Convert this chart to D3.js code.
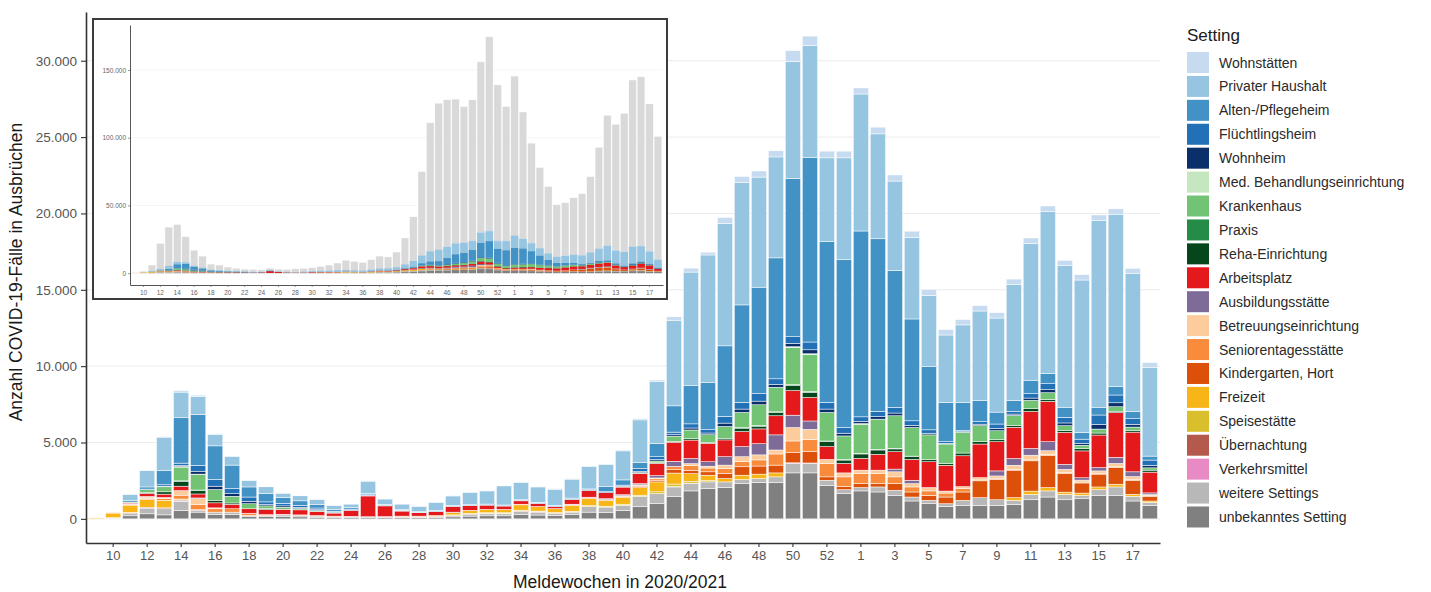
<!DOCTYPE html>
<html>
<head>
<meta charset="utf-8">
<script src="https://cdn.jsdelivr.net/npm/d3@7"></script>
<style>
  body { margin: 0; background: #fff; }
  svg { display: block; font-family: "Liberation Sans", Arial, Helvetica, sans-serif; }
</style>
</head>
<body>
<svg id="chart" width="1431" height="592"></svg>
<script>
// Meldewochen: KW 9–53 (2020) und KW 1–18 (2021)
const wochen = ["9","10","11","12","13","14","15","16","17","18",
  "19","20","21","22","23","24","25","26","27","28",
  "29","30","31","32","33","34","35","36","37","38",
  "39","40","41","42","43","44","45","46","47","48",
  "49","50","51","52","53","1","2","3","4","5",
  "6","7","8","9","10","11","12","13","14","15",
  "16","17","18"];
const jahrWechselIndex = 45; // ab hier 2021

const achsenWochen2020 = [10,12,14,16,18,20,22,24,26,28,30,32,34,36,38,40,42,44,46,48,50,52];
const achsenWochen2021 = [1,3,5,7,9,11,13,15,17];
const yTicksHaupt = [0, 5000, 10000, 15000, 20000, 25000, 30000];
const yTicksInset = [0, 50000, 100000, 150000];

// Fälle in Ausbrüchen je Setting und Meldewoche
const unbekanntesSetting = [0,40,200,330,260,550,440,300,300,150,
  150,150,130,110,90,90,90,80,80,80,
  100,130,180,200,200,280,250,220,280,440,
  400,550,810,990,1470,1830,1980,2050,2310,2380,
  2380,3010,3010,2200,1650,1830,1760,1540,1170,990,
  810,880,880,880,950,1250,1430,1250,1320,1540,
  1540,1170,880];
const weitereSettings = [0,40,150,370,400,600,120,140,140,70,
  70,110,90,70,50,50,50,40,40,40,
  60,90,110,130,130,200,180,150,160,370,
  370,330,660,660,620,480,440,370,260,260,
  370,620,620,330,260,220,330,330,260,220,
  180,330,510,370,260,350,400,350,220,370,
  550,310,200];
const verkehrsmittel = [0,0,0,0,0,30,0,0,0,0,
  0,0,0,0,0,0,0,0,0,0,
  0,0,0,0,0,0,0,0,0,0,
  0,0,0,0,30,30,0,0,0,0,
  0,40,30,0,0,0,0,0,0,0,
  0,0,0,0,0,0,0,0,0,0,
  0,0,0];
const uebernachtung = [0,0,40,60,60,60,40,0,0,0,
  0,0,0,0,0,0,0,0,0,0,
  0,0,30,30,30,30,30,0,0,0,
  0,0,0,0,0,0,0,0,0,0,
  0,0,0,0,0,0,0,0,0,0,
  0,0,0,0,0,0,0,0,0,0,
  0,0,0];
const speisestaette = [0,0,30,0,0,0,0,0,0,0,
  0,0,0,0,0,0,0,0,0,0,
  0,40,40,40,40,60,50,40,60,60,
  60,80,80,120,160,120,90,0,0,0,
  0,0,0,0,0,0,0,0,0,0,
  0,0,0,0,0,0,0,0,0,0,
  0,0,0];
const freizeit = [60,300,480,500,500,60,0,0,0,0,
  0,0,0,0,0,0,0,0,30,30,
  60,150,200,220,220,350,300,260,380,450,
  380,460,500,650,720,500,350,220,290,290,
  260,0,0,0,0,0,0,0,0,0,
  0,0,0,0,180,220,220,150,150,180,
  180,130,90];
const kindergarten = [0,0,0,0,0,0,0,0,0,0,
  0,0,0,0,0,0,0,0,0,0,
  0,0,0,0,0,0,0,0,0,0,
  0,0,60,80,220,220,220,330,550,530,
  510,660,770,220,220,260,220,440,330,330,
  440,550,1100,1320,1800,1980,2090,1210,660,840,
  1100,920,310];
const seniorentagesstaette = [0,30,60,90,100,250,330,220,220,150,
  60,40,40,40,40,30,0,30,30,30,
  0,0,0,0,0,40,0,0,40,50,
  60,60,80,120,220,300,250,330,330,400,
  730,770,770,880,620,660,660,440,330,290,
  260,220,60,60,60,60,60,60,60,60,
  60,60,40];
const betreuungseinrichtung = [0,0,40,80,80,300,400,60,0,0,
  0,0,0,0,0,0,0,0,0,0,
  0,0,0,0,0,0,0,0,0,0,
  0,40,40,60,0,140,120,220,330,330,
  260,880,660,260,260,220,220,330,220,220,
  130,130,150,180,260,310,260,220,130,150,
  200,180,70];
const ausbildungsstaette = [0,0,0,40,0,0,40,0,0,0,
  0,0,0,0,0,0,0,0,0,0,
  0,30,0,0,0,0,0,0,40,50,
  50,60,80,150,330,330,290,550,660,730,
  990,810,550,0,0,0,0,180,220,0,
  0,0,0,330,440,440,590,330,150,220,
  400,310,110];
const arbeitsplatz = [0,0,60,200,220,290,260,330,290,290,
  330,330,330,260,200,380,1360,700,330,220,
  260,370,300,280,220,220,200,130,300,440,
  400,500,660,810,1250,1210,1210,1100,990,970,
  1250,1610,1540,840,620,770,1030,1140,1360,1690,
  1690,2020,2200,1910,2050,2420,2640,2090,1760,2130,
  2930,2600,1360];
const rehaEinrichtung = [0,0,0,60,150,300,220,170,90,0,
  60,0,0,0,0,0,0,0,0,0,
  0,0,0,0,0,0,0,0,0,0,
  0,0,0,40,50,110,60,110,220,180,
  220,330,330,330,220,290,290,180,180,150,
  110,180,150,130,110,180,130,110,150,130,
  90,110,130];
const praxis = [0,0,0,0,0,50,40,0,0,0,
  0,0,0,0,0,0,0,0,0,0,
  0,0,0,0,0,0,0,0,0,0,
  0,0,0,0,0,0,0,0,40,40,
  40,60,60,40,40,40,40,40,40,0,
  0,0,0,0,0,0,0,0,0,0,
  0,0,0];
const krankenhaus = [0,0,40,180,330,900,1000,700,440,330,
  180,130,90,70,30,0,0,0,0,0,
  0,0,0,0,0,0,0,0,0,0,
  0,40,60,110,350,550,500,770,990,1360,
  1610,2420,2420,1870,1540,1910,1980,2130,1870,1610,
  1280,1360,1060,590,660,550,440,330,220,260,
  290,220,150];
const medBehandlung = [0,0,0,0,0,40,40,0,0,0,
  0,0,0,0,0,0,0,0,0,0,
  0,0,0,0,0,0,0,0,0,0,
  0,0,0,0,0,0,0,0,0,0,
  0,60,50,0,0,40,0,0,0,0,
  0,0,0,0,0,0,0,0,0,0,
  0,0,0];
const wohnheim = [0,0,0,0,40,70,190,220,170,150,
  90,90,70,50,30,30,40,20,20,0,
  0,0,0,0,0,0,0,0,0,0,
  0,30,80,90,90,130,110,220,220,240,
  180,220,260,220,180,150,170,180,150,110,
  50,40,90,150,90,150,200,180,130,310,
  260,180,170];
const fluechtlingsheim = [0,0,0,40,90,150,380,440,330,290,
  170,170,130,110,60,60,80,30,30,30,
  30,30,30,30,30,30,30,40,40,40,
  60,60,180,190,170,270,220,440,440,490,
  370,440,510,440,370,290,340,370,290,220,
  100,70,170,290,170,290,390,370,270,610,
  510,370,340];
const altenPflegeheim = [0,0,120,140,920,2970,3340,2200,1540,660,
  550,370,300,240,130,100,40,40,40,40,
  40,40,40,40,40,40,40,40,60,60,
  330,340,400,880,1720,2530,3080,4620,6380,6970,
  7920,10360,12090,10520,10990,12170,11300,8970,6670,4140,
  2570,1850,1390,780,730,880,660,660,440,510,
  550,480,260];
const privaterHaushalt = [0,0,370,1060,2200,1680,1180,740,550,410,
  440,290,330,310,230,230,810,360,370,350,
  530,620,790,860,1250,1130,1010,1060,1240,1460,
  1440,1900,2790,4030,5610,7410,8360,8010,8010,7210,
  6610,7670,7340,5490,6670,8970,6870,5850,5350,4660,
  4420,5070,5850,6160,7590,8960,10630,9270,9980,12240,
  11290,9020,5820];
const wohnstaetten = [0,0,0,0,40,100,80,50,40,30,
  30,30,30,20,20,20,20,20,20,20,
  20,40,40,40,40,40,40,40,40,40,
  40,60,90,110,220,260,180,400,400,400,
  400,700,600,440,440,400,440,400,400,400,
  350,350,350,350,350,350,350,350,350,350,
  350,350,300];

// Alle gemeldeten COVID-19-Fälle je Meldewoche (Inset)
const faelleGesamt = [500,1500,6000,22000,34000,36000,27000,17000,12600,6700,
  6000,4500,3600,3000,2800,2500,3600,3000,2800,3200,
  3600,4000,5000,6000,7500,9600,8800,8000,10000,12600,
  12000,15600,26000,41600,75000,111000,125500,128000,128500,123000,
  128000,156000,174500,139000,123000,145500,119000,96000,78000,64000,
  50500,52000,55700,58700,71300,92900,116600,110000,118000,142600,
  145000,125000,101000];

// Settings von unten nach oben gestapelt
const settings = [
  { name: "unbekanntes Setting", werte: unbekanntesSetting, farbe: "#808080" },
  { name: "weitere Settings", werte: weitereSettings, farbe: "#b8b8b8" },
  { name: "Verkehrsmittel", werte: verkehrsmittel, farbe: "#e88bc4" },
  { name: "Übernachtung", werte: uebernachtung, farbe: "#b45a4c" },
  { name: "Speisestätte", werte: speisestaette, farbe: "#d9bf2c" },
  { name: "Freizeit", werte: freizeit, farbe: "#f8b518" },
  { name: "Kindergarten, Hort", werte: kindergarten, farbe: "#dc5009" },
  { name: "Seniorentagesstätte", werte: seniorentagesstaette, farbe: "#f98c3c" },
  { name: "Betreuungseinrichtung", werte: betreuungseinrichtung, farbe: "#fccc9c" },
  { name: "Ausbildungsstätte", werte: ausbildungsstaette, farbe: "#7e6b98" },
  { name: "Arbeitsplatz", werte: arbeitsplatz, farbe: "#e4191c" },
  { name: "Reha-Einrichtung", werte: rehaEinrichtung, farbe: "#06461d" },
  { name: "Praxis", werte: praxis, farbe: "#248c46" },
  { name: "Krankenhaus", werte: krankenhaus, farbe: "#73c375" },
  { name: "Med. Behandlungseinrichtung", werte: medBehandlung, farbe: "#c5e7bf" },
  { name: "Wohnheim", werte: wohnheim, farbe: "#0b2f6b" },
  { name: "Flüchtlingsheim", werte: fluechtlingsheim, farbe: "#2270b5" },
  { name: "Alten-/Pflegeheim", werte: altenPflegeheim, farbe: "#4392c6" },
  { name: "Privater Haushalt", werte: privaterHaushalt, farbe: "#95c5e0" },
  { name: "Wohnstätten", werte: wohnstaetten, farbe: "#c6dbef" }
];

const ids = wochen.map((w, i) => (i < jahrWechselIndex ? "2020-" : "2021-") + w);
const rows = ids.map((id, i) => {
  const r = { id, gesamt: faelleGesamt[i] };
  settings.forEach(s => { r[s.name] = s.werte[i]; });
  return r;
});
const keys = settings.map(s => s.name);
const farbe = d3.scaleOrdinal().domain(keys).range(settings.map(s => s.farbe));
const stack = d3.stack().keys(keys)(rows);
const totals = rows.map(r => d3.sum(keys, k => r[k]));

const de = d3.formatLocale({ decimal: ",", thousands: ".", grouping: [3], currency: ["", "€"] });
const fmt = de.format(",d");

const tickIds = achsenWochen2020.map(w => "2020-" + w).concat(achsenWochen2021.map(w => "2021-" + w));
const tickLabel = id => id.split("-")[1];

const svg = d3.select("#chart");

// ---------- Hauptdiagramm ----------
const pLeft = 86, pRight = 1160, pTop = 12, pBottom = 543;
const x = d3.scaleBand().domain(ids).range([pLeft, pRight]).paddingInner(0.1).paddingOuter(0.15);
const yMax = d3.max(totals);
const y = d3.scaleLinear().domain([-0.05 * yMax, yMax * 1.05]).range([pBottom, pTop]);

const main = svg.append("g");

main.append("g").selectAll("line").data(yTicksHaupt).join("line")
  .attr("x1", pLeft).attr("x2", pRight)
  .attr("y1", d => y(d)).attr("y2", d => y(d))
  .attr("stroke", "#ebebeb").attr("stroke-width", 1);

main.append("g").selectAll("g").data(stack).join("g")
  .attr("fill", d => farbe(d.key))
  .selectAll("rect").data(d => d.filter(p => p[1] > p[0])).join("rect")
  .attr("x", d => x(d.data.id))
  .attr("width", x.bandwidth())
  .attr("y", d => y(d[1]))
  .attr("height", d => y(d[0]) - y(d[1]))
  .attr("stroke", "#ffffff").attr("stroke-width", 0.5);

const yAxis = main.append("g").attr("transform", `translate(${pLeft},0)`)
  .call(d3.axisLeft(y).tickValues(yTicksHaupt).tickFormat(fmt).tickSize(5).tickSizeOuter(0));
const xAxis = main.append("g").attr("transform", `translate(0,${pBottom})`)
  .call(d3.axisBottom(x).tickValues(tickIds).tickFormat(tickLabel).tickSize(4).tickSizeOuter(0));
[yAxis, xAxis].forEach(a => {
  a.select(".domain").attr("stroke", "#333").attr("stroke-width", 1.6);
  a.selectAll(".tick line").attr("stroke", "#333").attr("stroke-width", 1.1);
  a.selectAll(".tick text").attr("fill", "#555");
});
yAxis.selectAll(".tick text").attr("x", -9).style("font-size", "13.5px");
xAxis.selectAll(".tick text").attr("y", 8).style("font-size", "13px");

main.append("text").attr("x", 620).attr("y", 588)
  .attr("text-anchor", "middle").attr("fill", "#1a1a1a").style("font-size", "17.5px")
  .text("Meldewochen in 2020/2021");
main.append("text").attr("transform", "translate(22,272) rotate(-90)")
  .attr("text-anchor", "middle").attr("fill", "#1a1a1a").style("font-size", "17.5px")
  .text("Anzahl COVID-19-Fälle in Ausbrüchen");

// ---------- Inset: alle Fälle vs. Fälle in Ausbrüchen ----------
const inset = svg.append("g");
inset.append("rect").attr("x", 93).attr("y", 19).attr("width", 574).attr("height", 280)
  .attr("fill", "#fff").attr("stroke", "#3c3c3c").attr("stroke-width", 2);

const iL = 130, iR = 663, iT = 25, iB = 285;
const xi = d3.scaleBand().domain(ids).range([iL, iR]).paddingInner(0.1).paddingOuter(0.15);
const giMax = d3.max(faelleGesamt);
const yi = d3.scaleLinear().domain([-0.05 * giMax, giMax * 1.05]).range([iB, iT]);

inset.append("g").selectAll("line").data(yTicksInset).join("line")
  .attr("x1", iL).attr("x2", iR)
  .attr("y1", d => yi(d)).attr("y2", d => yi(d))
  .attr("stroke", "#eeeeee").attr("stroke-width", 0.6);

inset.append("g").selectAll("rect").data(rows).join("rect")
  .attr("x", d => xi(d.id)).attr("width", xi.bandwidth())
  .attr("y", d => yi(d.gesamt)).attr("height", d => yi(0) - yi(d.gesamt))
  .attr("fill", "#d9d9d9").attr("stroke", "#fff").attr("stroke-width", 0.4);

inset.append("g").selectAll("g").data(stack).join("g")
  .attr("fill", d => farbe(d.key))
  .selectAll("rect").data(d => d.filter(p => p[1] > p[0])).join("rect")
  .attr("x", d => xi(d.data.id)).attr("width", xi.bandwidth())
  .attr("y", d => yi(d[1])).attr("height", d => yi(d[0]) - yi(d[1]));

const yiAxis = inset.append("g").attr("transform", `translate(${iL},0)`)
  .call(d3.axisLeft(yi).tickValues(yTicksInset).tickFormat(fmt).tickSize(2).tickSizeOuter(0));
const xiAxis = inset.append("g").attr("transform", `translate(0,${iB})`)
  .call(d3.axisBottom(xi).tickValues(tickIds).tickFormat(tickLabel).tickSize(2).tickSizeOuter(0));
[yiAxis, xiAxis].forEach(a => {
  a.select(".domain").attr("stroke", "#555").attr("stroke-width", 1);
  a.selectAll(".tick line").attr("stroke", "#555").attr("stroke-width", 0.6);
  a.selectAll(".tick text").attr("fill", "#666").style("font-size", "6.5px");
});
yiAxis.selectAll(".tick text").attr("x", -4);
xiAxis.selectAll(".tick text").attr("y", 5);

// ---------- Legende ----------
const legend = svg.append("g");
legend.append("text").attr("x", 1187).attr("y", 41).attr("fill", "#1a1a1a")
  .style("font-size", "17px").text("Setting");
const legendItems = settings.slice().reverse();
const li = legend.selectAll("g.item").data(legendItems).join("g")
  .attr("transform", (d, i) => `translate(1187,${52 + i * 23.92})`);
li.append("rect").attr("width", 22).attr("height", 21).attr("fill", d => d.farbe);
li.append("text").attr("x", 32).attr("y", 15.5).attr("fill", "#2a2a2a")
  .style("font-size", "14px").text(d => d.name);
</script>
</body>
</html>
